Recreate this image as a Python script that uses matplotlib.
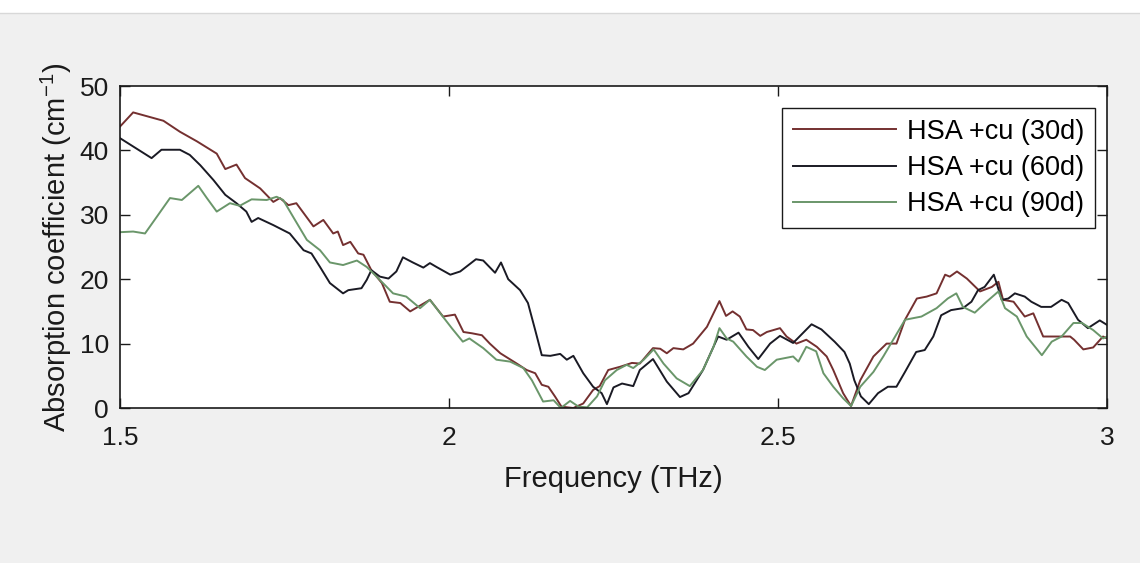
import matplotlib
matplotlib.use("Agg")
import matplotlib.pyplot as plt
from matplotlib.patches import Rectangle

plt.rcParams['font.family'] = ['Liberation Sans', 'DejaVu Sans']
plt.rcParams['mathtext.fontset'] = 'custom'
plt.rcParams['mathtext.rm'] = 'Liberation Sans'
plt.rcParams['mathtext.default'] = 'regular'

# ---------------- data ----------------
freq_30d = [1.500, 1.520, 1.566, 1.591, 1.617, 1.647, 1.660, 1.677, 1.690, 1.713, 1.733, 1.743,
            1.756, 1.768, 1.794, 1.809, 1.824, 1.831, 1.839, 1.850, 1.862, 1.870, 1.882, 1.898,
            1.910, 1.926, 1.941, 1.971, 1.991, 2.009, 2.022, 2.035, 2.050, 2.062, 2.078, 2.103,
            2.118, 2.131, 2.141, 2.151, 2.161, 2.171, 2.189, 2.204, 2.219, 2.229, 2.242, 2.260,
            2.278, 2.290, 2.310, 2.321, 2.331, 2.341, 2.356, 2.371, 2.392, 2.411, 2.421, 2.431,
            2.442, 2.452, 2.462, 2.473, 2.483, 2.503, 2.513, 2.528, 2.543, 2.559, 2.574, 2.584,
            2.599, 2.611, 2.625, 2.645, 2.665, 2.680, 2.693, 2.711, 2.726, 2.741, 2.754, 2.761,
            2.772, 2.787, 2.807, 2.825, 2.835, 2.842, 2.858, 2.875, 2.888, 2.903, 2.923, 2.944,
            2.950, 2.964, 2.979, 2.994, 3.000]
abs_30d = [43.7, 45.9, 44.6, 42.9, 41.4, 39.5, 37.1, 37.8, 35.7, 34.1, 32.0, 32.6,
           31.5, 31.8, 28.2, 29.2, 27.1, 27.4, 25.3, 25.8, 24.0, 23.8, 21.4, 19.4,
           16.5, 16.3, 15.0, 16.8, 14.2, 14.5, 11.8, 11.6, 11.3, 10.0, 8.5, 6.9,
           5.9, 5.4, 3.6, 3.3, 1.8, 0.2, 0.0, 0.7, 2.8, 3.4, 5.9, 6.4,
           7.0, 6.9, 9.3, 9.2, 8.5, 9.3, 9.1, 10.0, 12.6, 16.6, 14.3, 15.0,
           14.2, 12.2, 12.1, 11.2, 11.8, 12.4, 11.1, 10.0, 10.6, 9.5, 8.0, 5.9,
           2.3, 0.3, 4.3, 8.0, 10.0, 10.0, 13.7, 17.0, 17.3, 17.8, 20.7, 20.4,
           21.2, 20.1, 18.1, 18.8, 19.6, 16.8, 16.5, 14.2, 14.7, 11.1, 11.1, 11.1,
           10.6, 9.1, 9.4, 11.1, 10.8]

freq_60d = [1.500, 1.548, 1.563, 1.591, 1.606, 1.622, 1.642, 1.660, 1.677, 1.692, 1.700, 1.710,
            1.733, 1.758, 1.779, 1.791, 1.804, 1.819, 1.839, 1.847, 1.867, 1.875, 1.882, 1.895,
            1.908, 1.920, 1.930, 1.945, 1.961, 1.971, 1.981, 2.002, 2.017, 2.041, 2.052, 2.070,
            2.079, 2.090, 2.108, 2.120, 2.131, 2.141, 2.154, 2.169, 2.179, 2.189, 2.204, 2.219,
            2.232, 2.240, 2.250, 2.263, 2.280, 2.290, 2.310, 2.331, 2.351, 2.364, 2.386, 2.409,
            2.422, 2.440, 2.455, 2.470, 2.488, 2.503, 2.523, 2.551, 2.566, 2.586, 2.601, 2.609,
            2.616, 2.626, 2.638, 2.652, 2.667, 2.680, 2.693, 2.710, 2.723, 2.736, 2.748, 2.763,
            2.781, 2.794, 2.804, 2.814, 2.828, 2.834, 2.840, 2.850, 2.860, 2.875, 2.885, 2.900,
            2.915, 2.931, 2.941, 2.956, 2.971, 2.989, 3.000]
abs_60d = [41.9, 38.8, 40.1, 40.1, 39.3, 37.7, 35.4, 33.1, 31.8, 30.5, 28.9, 29.5,
           28.4, 27.1, 24.5, 24.0, 21.9, 19.4, 17.8, 18.3, 18.6, 19.9, 21.4, 20.4,
           20.1, 21.2, 23.4, 22.6, 21.8, 22.5, 21.9, 20.7, 21.2, 23.1, 22.9, 21.0,
           22.6, 20.0, 18.3, 16.3, 12.1, 8.2, 8.1, 8.4, 7.5, 8.1, 5.4, 3.3,
           2.3, 0.6, 3.2, 3.8, 3.4, 5.9, 7.6, 4.1, 1.7, 2.3, 5.9, 11.1,
           10.6, 11.7, 9.5, 7.6, 10.0, 11.2, 10.1, 13.0, 12.2, 10.3, 8.7, 6.9,
           4.3, 1.8, 0.6, 2.3, 3.3, 3.3, 5.6, 8.7, 9.0, 11.1, 14.4, 15.2,
           15.5, 16.5, 18.3, 18.8, 20.7, 18.8, 16.8, 17.0, 17.8, 17.3, 16.5, 15.7,
           15.7, 16.8, 16.3, 13.7, 12.4, 13.6, 12.9]

freq_90d = [1.500, 1.520, 1.538, 1.556, 1.576, 1.594, 1.619, 1.632, 1.647, 1.667, 1.682, 1.700,
            1.723, 1.738, 1.748, 1.763, 1.784, 1.804, 1.819, 1.839, 1.860, 1.875, 1.890, 1.915,
            1.935, 1.956, 1.971, 1.986, 2.005, 2.021, 2.031, 2.052, 2.072, 2.093, 2.113, 2.126,
            2.143, 2.159, 2.170, 2.184, 2.197, 2.210, 2.225, 2.237, 2.255, 2.270, 2.280, 2.296,
            2.311, 2.326, 2.346, 2.366, 2.386, 2.402, 2.411, 2.422, 2.432, 2.452, 2.468, 2.480,
            2.498, 2.523, 2.531, 2.543, 2.558, 2.569, 2.584, 2.599, 2.611, 2.625, 2.645, 2.660,
            2.678, 2.693, 2.718, 2.741, 2.758, 2.771, 2.781, 2.799, 2.817, 2.835, 2.845, 2.863,
            2.878, 2.901, 2.916, 2.931, 2.949, 2.962, 2.979, 2.994, 3.000]
abs_90d = [27.3, 27.4, 27.1, 29.7, 32.6, 32.3, 34.5, 32.6, 30.5, 31.8, 31.4, 32.4,
           32.3, 32.8, 32.3, 29.7, 26.1, 24.5, 22.6, 22.2, 22.9, 21.9, 20.4, 17.8,
           17.3, 15.5, 16.8, 14.8, 12.3, 10.3, 10.8, 9.3, 7.5, 7.2, 6.2, 4.3,
           1.0, 1.2, 0.0, 1.1, 0.2, 0.1, 1.8, 4.3, 5.9, 6.7, 6.2, 7.5,
           9.1, 6.9, 4.6, 3.4, 5.9, 9.5, 12.4, 10.8, 10.3, 8.0, 6.4, 5.9,
           7.5, 8.0, 7.2, 9.5, 8.8, 5.4, 3.3, 1.5, 0.3, 3.3, 5.6, 8.0,
           11.1, 13.7, 14.2, 15.5, 17.0, 17.8, 15.7, 14.8, 16.5, 18.1, 15.5, 14.2,
           11.1, 8.2, 10.3, 11.1, 13.2, 13.2, 12.1, 10.8, 11.1]

labels = ['HSA +cu (30d)', 'HSA +cu (60d)', 'HSA +cu (90d)']
colors = ['#743030', '#1a1a24', '#6a966a']
x_ticks = [1.5, 2, 2.5, 3]
x_tick_labels = ['1.5', '2', '2.5', '3']
y_ticks = [0, 10, 20, 30, 40, 50]

# ---------------- figure ----------------
fig = plt.figure(figsize=(11.4, 5.63), dpi=100, facecolor='white')
fig.patches.append(Rectangle((0, 0), 1, 1 - 13 / 563, transform=fig.transFigure,
                             facecolor='#f0f0f0', edgecolor='none', zorder=-10))
fig.add_artist(plt.Line2D([0, 1], [1 - 13 / 563, 1 - 13 / 563], color='#d8d8d8', lw=1.0,
                          transform=fig.transFigure))

ax = fig.add_axes([120 / 1140, 1 - 408 / 563, 987 / 1140, 322 / 563])
ax.set_facecolor('white')

for fx, fy, lab, col in zip([freq_30d, freq_60d, freq_90d], [abs_30d, abs_60d, abs_90d],
                            labels, colors):
    ax.plot(fx, fy, color=col, lw=1.4, label=lab)

ax.set_xlim(1.5, 3)
ax.set_ylim(0, 50)
ax.set_xticks(x_ticks)
ax.set_xticklabels(x_tick_labels)
ax.set_yticks(y_ticks)
ax.tick_params(direction='in', length=7, width=1.0, top=True, right=True,
               labelsize=19, colors='#1a1a1a')
ax.tick_params(axis='x', pad=13)
ax.tick_params(axis='y', pad=8)
for s in ax.spines.values():
    s.set_linewidth(1.2)
    s.set_color('#1a1a1a')

ax.set_xlabel('Frequency (THz)', fontsize=21, labelpad=11, color='#1a1a1a')
ax.set_ylabel('Absorption coefficient (cm$^{-1}$)', fontsize=21, labelpad=4, color='#1a1a1a')

leg = ax.legend(loc='upper right', bbox_to_anchor=(1 - 12 / 987, (408 - 108) / 322),
                borderaxespad=0, fontsize=19.5, frameon=True, fancybox=False, framealpha=1,
                edgecolor='#1a1a1a', handlelength=3.8, handletextpad=0.4,
                labelspacing=0.38, borderpad=0.4)
leg.get_frame().set_linewidth(1.0)

fig.savefig('out.png', dpi=100, facecolor=fig.get_facecolor())
